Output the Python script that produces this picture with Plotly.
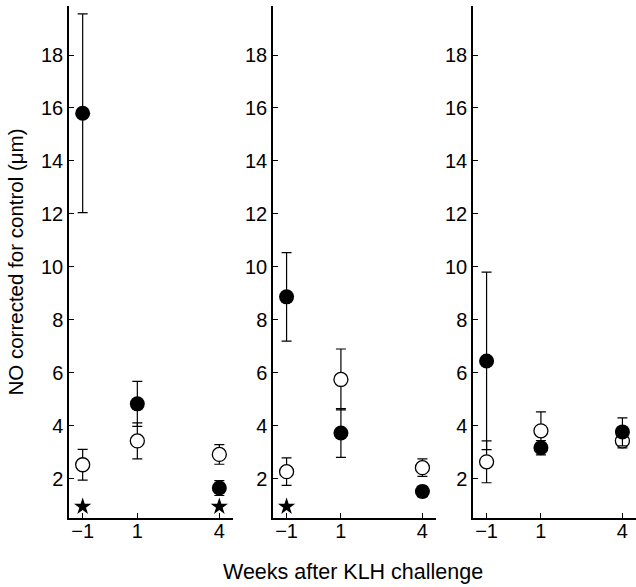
import plotly.graph_objects as go

weeks = [-1, 1, 4]
week_labels = ["\u22121", "1", "4"]

# Panel 1
p1_filled = [15.8, 4.83, 1.65]
p1_filled_err = [3.75, 0.85, 0.28]
p1_open = [2.53, 3.43, 2.92]
p1_open_err = [0.58, 0.68, 0.37]
p1_star_x = [-1, 4]
p1_star_y = [0.95, 0.95]

# Panel 2
p2_filled = [8.87, 3.73, 1.52]
p2_filled_err = [1.67, 0.92, 0.2]
p2_open = [2.27, 5.75, 2.42]
p2_open_err = [0.52, 1.15, 0.33]
p2_star_x = [-1]
p2_star_y = [0.95]

# Panel 3
p3_filled = [6.45, 3.17, 3.77]
p3_filled_err = [3.35, 0.27, 0.53]
p3_open = [2.64, 3.81, 3.43]
p3_open_err = [0.79, 0.72, 0.26]
p3_star_x = []
p3_star_y = []

y_ticks = [2, 4, 6, 8, 10, 12, 14, 16, 18]

panels = [
    (p1_filled, p1_filled_err, p1_open, p1_open_err, p1_star_x, p1_star_y),
    (p2_filled, p2_filled_err, p2_open, p2_open_err, p2_star_x, p2_star_y),
    (p3_filled, p3_filled_err, p3_open, p3_open_err, p3_star_x, p3_star_y),
]

W, H = 636, 587
ML, MR, MT, MB = 69, 0, 6, 69
plot_w = W - ML - MR
px_domains = [(69, 233), (273, 436), (473, 636)]
domains = [((a - ML) / plot_w, (b - ML) / plot_w) for a, b in px_domains]

FONT = "Liberation Sans, Arial, Helvetica, sans-serif"
FS = 20

fig = go.Figure()
for i, (fv, fe, ov, oe, sx, sy) in enumerate(panels):
    xa = "x" if i == 0 else f"x{i+1}"
    ya = "y" if i == 0 else f"y{i+1}"
    fig.add_trace(go.Scatter(
        x=weeks, y=ov, mode="markers", xaxis=xa, yaxis=ya,
        marker=dict(symbol="circle", size=14, color="white",
                    line=dict(color="black", width=1.3)),
        error_y=dict(type="data", array=oe, visible=True, color="black",
                     thickness=1.2, width=5),
        showlegend=False, cliponaxis=False,
    ))
    fig.add_trace(go.Scatter(
        x=weeks, y=fv, mode="markers", xaxis=xa, yaxis=ya,
        marker=dict(symbol="circle", size=15, color="black",
                    line=dict(color="black", width=0)),
        error_y=dict(type="data", array=fe, visible=True, color="black",
                     thickness=1.2, width=5),
        showlegend=False, cliponaxis=False,
    ))
    if sx:
        fig.add_trace(go.Scatter(
            x=sx, y=sy, mode="markers", xaxis=xa, yaxis=ya,
            marker=dict(symbol="star", size=13, color="black",
                        line=dict(width=0)),
            showlegend=False, cliponaxis=False,
        ))

layout = dict(
    width=W, height=H,
    margin=dict(l=ML, r=MR, t=MT, b=MB, pad=0),
    paper_bgcolor="white", plot_bgcolor="white",
    font=dict(family=FONT, size=FS, color="black"),
    showlegend=False,
)
for i in range(3):
    xk = "xaxis" if i == 0 else f"xaxis{i+1}"
    yk = "yaxis" if i == 0 else f"yaxis{i+1}"
    layout[xk] = dict(
        domain=list(domains[i]), range=[-1.5, 4.5],
        tickmode="array", tickvals=weeks, ticktext=week_labels,
        ticks="inside", ticklen=5, tickwidth=1, tickcolor="black",
        showline=True, linecolor="black", linewidth=1.5,
        showgrid=False, zeroline=False, fixedrange=True,
        anchor="y" if i == 0 else f"y{i+1}",
        tickfont=dict(size=FS), ticklabelstandoff=-6,
    )
    layout[yk] = dict(
        domain=[0, 1], range=[0.52, 19.85],
        tickmode="array", tickvals=y_ticks,
        ticks="inside", ticklen=5, tickwidth=1, tickcolor="black",
        showline=True, linecolor="black", linewidth=1.5,
        showgrid=False, zeroline=False, fixedrange=True,
        anchor="x" if i == 0 else f"x{i+1}",
        tickfont=dict(size=FS),
    )
layout["yaxis"]["title"] = dict(text="NO corrected for control (\u03bcm)",
                                font=dict(size=20.5), standoff=12)

fig.update_layout(**layout)
fig.add_annotation(
    text="Weeks after KLH challenge", xref="paper", yref="paper",
    x=0.5, y=0, xanchor="center", yanchor="middle", yshift=-54,
    showarrow=False, font=dict(size=21.5, family=FONT, color="black"),
)

fig.write_html(
    "out.html",
    config={"displayModeBar": False},
    post_script="document.body.style.margin='0';document.body.style.overflow='hidden';",
)
